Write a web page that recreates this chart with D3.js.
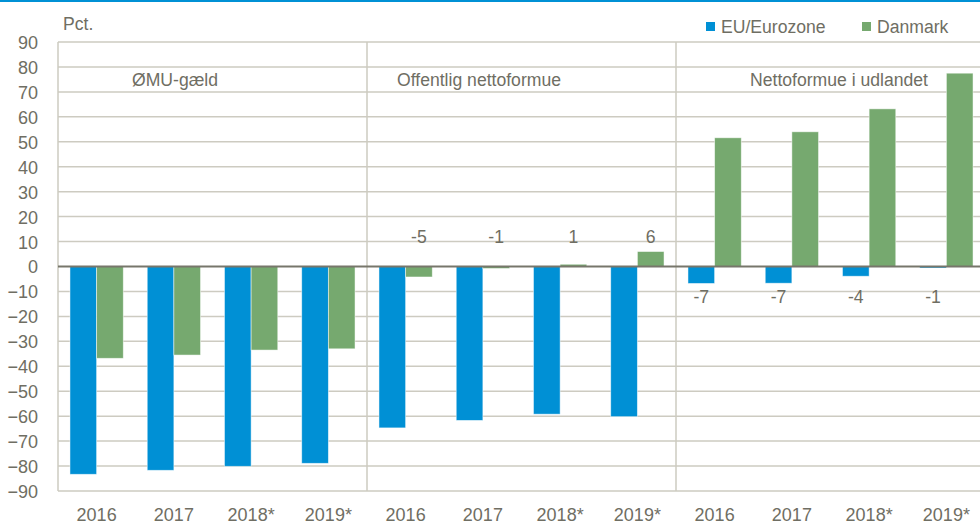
<!DOCTYPE html>
<html>
<head>
<meta charset="utf-8">
<script src="https://cdn.jsdelivr.net/npm/d3@7"></script>
<style>
  body { margin: 0; background: #fff; }
  svg text { font-family: "Liberation Sans", Arial, sans-serif; fill: #6f6e63; font-size: 17.6px; }
</style>
</head>
<body>
<div id="chart"></div>
<script>
// Dados
const panels = ["ØMU-gæld", "Offentlig nettoformue", "Nettoformue i udlandet"];
const years = ["2016", "2017", "2018*", "2019*"];
const series = ["EU/Eurozone", "Danmark"];
const euValues = [
    [-83.3, -81.7, -80.1, -78.9],
    [-64.7, -61.7, -59.2, -60.2],
    [-6.8, -6.7, -3.9, -0.6]
];
const dkValues = [
    [-36.8, -35.5, -33.5, -33.0],
    [-4.2, -0.8, 0.9, 6.0],
    [51.6, 54.0, 63.2, 77.5]
];
const dkLabels = [null, ["-5", "-1", "1", "6"], null];
const euLabels = [null, null, ["-7", "-7", "-4", "-1"]];
const yTicks = d3.range(-90, 91, 10);

// Layout
const width = 980, height = 524;
const margin = { top: 42, left: 58, right: -5, bottom: 33 };
const colors = { "EU/Eurozone": "#0090d5", "Danmark": "#76a96f" };
const gridColor = "#cdcbc1";
const titleOffset = [117, 112, 163];

const svg = d3.select("#chart").append("svg")
    .attr("width", width)
    .attr("height", height);

// linha azul no topo
svg.append("line")
    .attr("x1", 0).attr("x2", width)
    .attr("y1", 1).attr("y2", 1)
    .attr("stroke", "#0091d5").attr("stroke-width", 2);

const y = d3.scaleLinear()
    .domain([-90, 90])
    .range([height - margin.bottom, margin.top]);

const xPanel = d3.scaleBand()
    .domain(d3.range(panels.length))
    .range([margin.left, width - margin.right]);

const xYear = d3.scaleBand()
    .domain(years)
    .range([0, xPanel.bandwidth()])
    .paddingInner(0.31)
    .paddingOuter(0.155);

const xSeries = d3.scaleBand()
    .domain(series)
    .range([0, xYear.bandwidth()]);

// Grade
svg.append("g")
    .selectAll("line")
    .data(yTicks.filter(d => d !== 0))
    .enter().append("line")
    .attr("x1", margin.left).attr("x2", width)
    .attr("y1", d => y(d)).attr("y2", d => y(d))
    .attr("stroke", gridColor)
    .attr("stroke-width", 1.5);

// Eixo y (só textos)
const yAxis = d3.axisLeft(y).tickValues(yTicks).tickSize(0).tickPadding(0);
const yg = svg.append("g")
    .attr("transform", "translate(38,0)")
    .call(yAxis);
yg.select(".domain").remove();
yg.selectAll("text")
    .style("font-size", "18px")
    .attr("dy", "0.36em");

// Linhas verticais (eixo e separadores)
svg.append("g")
    .selectAll("line")
    .data(d3.range(panels.length))
    .enter().append("line")
    .attr("x1", d => xPanel(d)).attr("x2", d => xPanel(d))
    .attr("y1", y(90)).attr("y2", y(-90))
    .attr("stroke", gridColor)
    .attr("stroke-width", 1.5);

// Barras
const barData = [];
panels.forEach((p, i) => {
    years.forEach((yr, j) => {
        barData.push({ panel: i, year: yr, series: "EU/Eurozone", value: euValues[i][j], label: euLabels[i] ? euLabels[i][j] : null });
        barData.push({ panel: i, year: yr, series: "Danmark", value: dkValues[i][j], label: dkLabels[i] ? dkLabels[i][j] : null });
    });
});

const barX = d => xPanel(d.panel) + xYear(d.year) + xSeries(d.series);

svg.append("g")
    .selectAll("rect")
    .data(barData)
    .enter().append("rect")
    .attr("x", barX)
    .attr("width", xSeries.bandwidth())
    .attr("y", d => y(Math.max(0, d.value)))
    .attr("height", d => Math.abs(y(d.value) - y(0)))
    .attr("fill", d => colors[d.series])
    .attr("stroke", "#ffffff")
    .attr("stroke-opacity", 0.6)
    .attr("stroke-width", 0.8);

// Linha zero
svg.append("line")
    .attr("x1", margin.left).attr("x2", width)
    .attr("y1", y(0)).attr("y2", y(0))
    .attr("stroke", "#77766b")
    .attr("stroke-width", 2);

// Rótulos de valores
svg.append("g")
    .selectAll("text")
    .data(barData.filter(d => d.label !== null))
    .enter().append("text")
    .attr("x", d => barX(d) + xSeries.bandwidth() / 2)
    .attr("y", d => d.series === "Danmark" ? y(12) : y(-12))
    .attr("dy", "0.36em")
    .attr("text-anchor", "middle")
    .text(d => d.label);

// Títulos dos painéis
svg.append("g")
    .selectAll("text")
    .data(panels)
    .enter().append("text")
    .attr("x", (d, i) => xPanel(i) + titleOffset[i])
    .attr("y", y(75))
    .attr("dy", "0.36em")
    .attr("text-anchor", "middle")
    .text(d => d);

// Rótulos do eixo x
const xLabels = [];
panels.forEach((p, i) => years.forEach(yr => xLabels.push({ panel: i, year: yr })));
svg.append("g")
    .selectAll("text")
    .data(xLabels)
    .enter().append("text")
    .attr("x", d => xPanel(d.panel) + xYear(d.year) + xYear.bandwidth() / 2)
    .attr("y", 521)
    .attr("text-anchor", "middle")
    .style("font-size", "18px")
    .text(d => d.year);

// Unidade
svg.append("text")
    .attr("x", 63).attr("y", 30)
    .text("Pct.");

// Legenda
const legendX = [706, 862];
const legend = svg.append("g")
    .selectAll("g")
    .data(series)
    .enter().append("g")
    .attr("transform", (d, i) => `translate(${legendX[i]},22)`);
legend.append("rect")
    .attr("width", 9).attr("height", 9)
    .attr("fill", d => colors[d]);
legend.append("text")
    .attr("x", 15).attr("y", 4.5)
    .attr("dy", "0.36em")
    .text(d => d);
</script>
</body>
</html>
